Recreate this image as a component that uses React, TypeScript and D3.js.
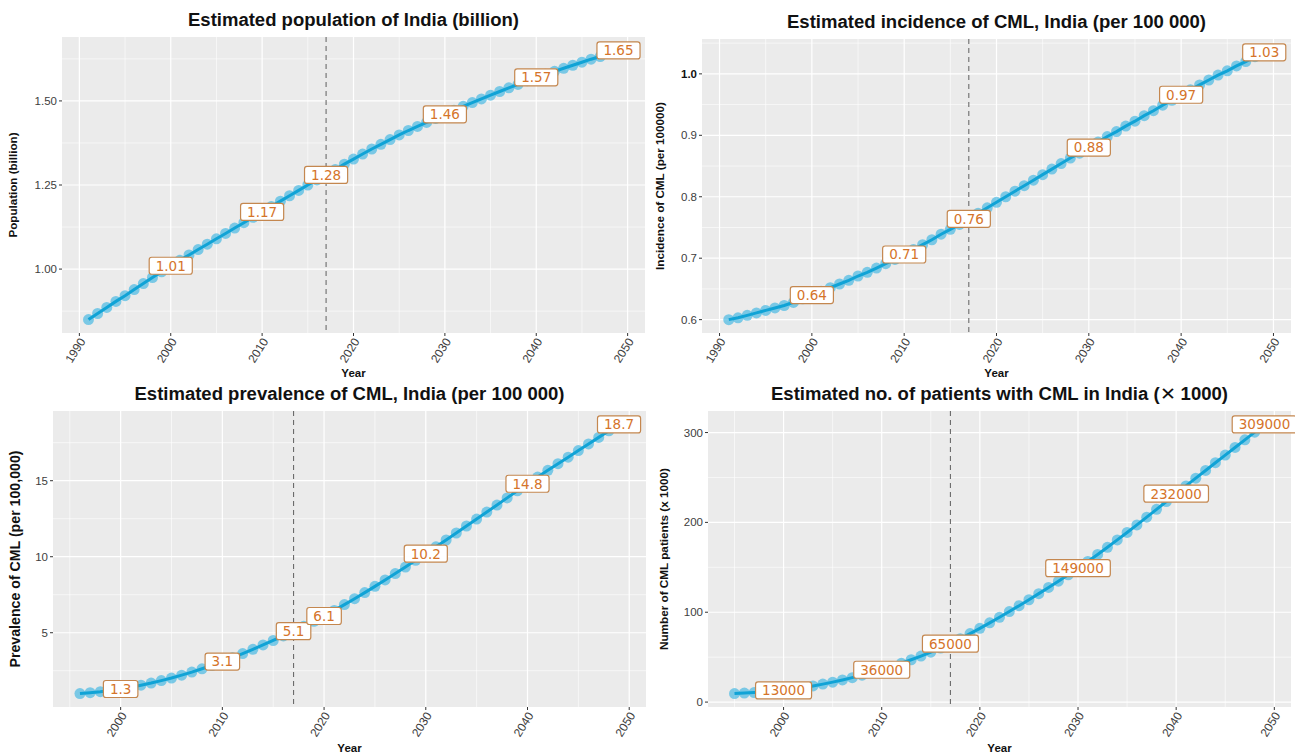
import * as d3 from 'd3'

// one value per year
const YEARS = [
  1991, 1992, 1993, 1994, 1995, 1996, 1997, 1998, 1999, 2000,
  2001, 2002, 2003, 2004, 2005, 2006, 2007, 2008, 2009, 2010,
  2011, 2012, 2013, 2014, 2015, 2016, 2017, 2018, 2019, 2020,
  2021, 2022, 2023, 2024, 2025, 2026, 2027, 2028, 2029, 2030,
  2031, 2032, 2033, 2034, 2035, 2036, 2037, 2038, 2039, 2040,
  2041, 2042, 2043, 2044, 2045, 2046, 2047, 2048, 2049,
]

const POPULATION = [
  0.850, 0.868, 0.886, 0.904, 0.921, 0.939, 0.957, 0.975, 0.992, 1.010,
  1.026, 1.042, 1.058, 1.074, 1.090, 1.106, 1.122, 1.138, 1.154, 1.170,
  1.186, 1.202, 1.218, 1.234, 1.250, 1.265, 1.280, 1.296, 1.312, 1.327,
  1.342, 1.357, 1.371, 1.385, 1.399, 1.412, 1.424, 1.436, 1.448, 1.460,
  1.472, 1.484, 1.495, 1.506, 1.517, 1.528, 1.539, 1.549, 1.560, 1.570,
  1.579, 1.588, 1.597, 1.606, 1.615, 1.624, 1.632, 1.641, 1.650,
]

const INCIDENCE = [
  0.600, 0.603, 0.607, 0.611, 0.615, 0.619, 0.623, 0.628, 0.634, 0.640,
  0.646, 0.652, 0.658, 0.664, 0.671, 0.677, 0.684, 0.691, 0.698, 0.706,
  0.714, 0.722, 0.730, 0.739, 0.747, 0.755, 0.764, 0.773, 0.782, 0.791,
  0.800, 0.809, 0.818, 0.827, 0.836, 0.845, 0.854, 0.863, 0.871, 0.880,
  0.889, 0.898, 0.906, 0.915, 0.923, 0.932, 0.940, 0.949, 0.957, 0.966,
  0.974, 0.982, 0.990, 0.998, 1.005, 1.013, 1.020, 1.028, 1.035,
]

// 1996 - 2049
const PREVALENCE = [
  1.00, 1.06, 1.12, 1.20, 1.30,
  1.42, 1.55, 1.69, 1.85, 2.02, 2.21, 2.41, 2.63, 2.86, 3.10,
  3.36, 3.63, 3.91, 4.20, 4.49, 4.79, 5.10, 5.42, 5.75, 6.10,
  6.47, 6.85, 7.24, 7.64, 8.05, 8.47, 8.89, 9.32, 9.76, 10.20,
  10.65, 11.10, 11.56, 12.02, 12.48, 12.94, 13.40, 13.87, 14.34, 14.80,
  15.24, 15.68, 16.12, 16.55, 16.98, 17.42, 17.85, 18.28, 18.70,
]

// 1995 - 2049, thousands
const PATIENTS = [
  9.5, 10.0, 10.6, 11.3, 12.1, 13.0,
  14.5, 16.2, 18.0, 20.0, 22.2, 24.6, 27.2, 30.0, 33.0, 36.0,
  39.5, 43.2, 47.1, 51.2, 55.5, 60.1, 65.0, 70.5, 76.2, 82.1,
  88.2, 94.4, 100.8, 107.3, 113.9, 120.7, 127.6, 134.6, 141.7, 149.0,
  156.5, 164.3, 172.3, 180.5, 188.8, 197.2, 205.8, 214.5, 223.2, 232.0,
  240.6, 249.2, 257.8, 266.4, 274.9, 283.4, 291.9, 300.4, 309.0,
]

const PREV_YEARS = YEARS.slice(5)
const PAT_YEARS = YEARS.slice(4)

const POP_LABEL_YEARS = [2000, 2010, 2017, 2030, 2040, 2049]
const POP_LABELS = ['1.01', '1.17', '1.28', '1.46', '1.57', '1.65']
const INC_LABEL_YEARS = [2000, 2010, 2017, 2030, 2040, 2049]
const INC_LABELS = ['0.64', '0.71', '0.76', '0.88', '0.97', '1.03']
const PREV_LABEL_YEARS = [2000, 2010, 2017, 2020, 2030, 2040, 2049]
const PREV_LABELS = ['1.3', '3.1', '5.1', '6.1', '10.2', '14.8', '18.7']
const PAT_LABEL_YEARS = [2000, 2010, 2017, 2030, 2040, 2049]
const PAT_LABELS = ['13000', '36000', '65000', '149000', '232000', '309000']

const X_TICKS_A = [1990, 2000, 2010, 2020, 2030, 2040, 2050]
const X_TICKS_B = [2000, 2010, 2020, 2030, 2040, 2050]
const X_MINOR = [1995, 2005, 2015, 2025, 2035, 2045]

const POP_TICKS = [1.0, 1.25, 1.5]
const POP_MINOR = [0.875, 1.125, 1.375, 1.625]
const INC_TICKS = [0.6, 0.7, 0.8, 0.9, 1.0]
const INC_MINOR = [0.65, 0.75, 0.85, 0.95, 1.05]
const PREV_TICKS = [5, 10, 15]
const PREV_MINOR = [2.5, 7.5, 12.5, 17.5]
const PAT_TICKS = [0, 100, 200, 300]
const PAT_MINOR = [50, 150, 250]

const DIVIDER_YEAR = 2017

const FONT = 'Liberation Sans, Arial, Helvetica, sans-serif'

const expand = (ext: [number, number]): [number, number] => {
  const pad = (ext[1] - ext[0]) * 0.05
  return [ext[0] - pad, ext[1] + pad]
}

const labelWidth = (s: string) => {
  let w = 0
  for (const c of s) w += c === '.' ? 4.3 : 8.6
  return w
}

function Panel({ cfg }: { cfg: any }) {
  const { left, right, top, bottom } = cfg
  const x = d3.scaleLinear()
    .domain(expand(d3.extent(cfg.years) as [number, number]))
    .range([left, right])
  const y = d3.scaleLinear()
    .domain(expand(d3.extent(cfg.values) as [number, number]))
    .range([bottom, top])

  const line = d3.line<number>()
    .x((_, i) => x(cfg.years[i]))
    .y(v => y(v))

  const cx = (left + right) / 2
  const cy = (top + bottom) / 2

  return (
    <g>
      <rect x={left} y={top} width={right - left} height={bottom - top} fill="#ebebeb" />
      {cfg.yMinor.map((t: number) => (
        <line key={'ym' + t} x1={left} x2={right} y1={y(t)} y2={y(t)} stroke="#fff" strokeWidth={0.6} />
      ))}
      {X_MINOR.map(t => (
        <line key={'xm' + t} x1={x(t)} x2={x(t)} y1={top} y2={bottom} stroke="#fff" strokeWidth={0.6} />
      ))}
      {cfg.yTicks.map((t: number) => (
        <line key={'yg' + t} x1={left} x2={right} y1={y(t)} y2={y(t)} stroke="#fff" strokeWidth={1.2} />
      ))}
      {cfg.xTicks.map((t: number) => (
        <line key={'xg' + t} x1={x(t)} x2={x(t)} y1={top} y2={bottom} stroke="#fff" strokeWidth={1.2} />
      ))}

      <line x1={x(DIVIDER_YEAR)} x2={x(DIVIDER_YEAR)} y1={top} y2={bottom}
        stroke="#6b6b6b" strokeWidth={1.1} strokeDasharray="5,4" />

      {cfg.values.map((v: number, i: number) => (
        <circle key={'p' + i} cx={x(cfg.years[i])} cy={y(v)} r={5.5} fill="#36b3e2" fillOpacity={0.62} />
      ))}
      <path d={line(cfg.values) || ''} fill="none" stroke="#10a3d6" strokeWidth={3} />

      {cfg.labelYears.map((ly: number, i: number) => {
        const v = cfg.values[cfg.years.indexOf(ly)]
        const tw = labelWidth(cfg.labels[i])
        const w = tw + 13
        return (
          <g key={'l' + i} transform={`translate(${x(ly)},${y(v)})`}>
            <rect x={-w / 2} y={-8.5} width={w} height={17} rx={2.5}
              fill="#fff" stroke="#c4874f" strokeWidth={1.2} />
            <text textAnchor="middle" dy="0.36em" fontSize={13.5}
              fontFamily="DejaVu Sans, sans-serif" fill="#d5742a">{cfg.labels[i]}</text>
          </g>
        )
      })}

      {cfg.yTicks.map((t: number, i: number) => {
        const bold = cfg.boldTick === cfg.yTickLabels[i]
        return (
          <g key={'yt' + t}>
            <line x1={left - 3} x2={left} y1={y(t)} y2={y(t)} stroke="#333" strokeWidth={1} />
            <text x={left - 5} y={y(t)} dy="0.35em" textAnchor="end" fontSize={11.5}
              fontFamily={FONT} fontWeight={bold ? 'bold' : 'normal'}
              fill={bold ? '#111' : '#3d3d3d'}>{cfg.yTickLabels[i]}</text>
          </g>
        )
      })}
      {cfg.xTicks.map((t: number) => (
        <g key={'xt' + t}>
          <line x1={x(t)} x2={x(t)} y1={bottom} y2={bottom + 3} stroke="#333" strokeWidth={1} />
          <text transform={`translate(${x(t) + 3},${bottom + 6}) rotate(-58)`} dy="0.35em"
            textAnchor="end" fontSize={12} fontFamily={FONT} fill="#3d3d3d">{t}</text>
        </g>
      ))}

      <text x={cx} y={top - 11} textAnchor="middle" fontSize={17.5} fontWeight="bold"
        fontFamily={FONT} fill="#111" textLength={cfg.titleLen} lengthAdjust="spacingAndGlyphs">
        {cfg.title}
        {cfg.titleTail ? <tspan fontWeight="normal">{cfg.titleTail}</tspan> : null}
        {cfg.titleEnd || ''}
      </text>
      <text transform={`translate(${cfg.yTitleX},${cy}) rotate(-90)`} textAnchor="middle"
        fontSize={cfg.yTitleSize} fontWeight="bold" fontFamily={FONT} fill="#111"
        textLength={cfg.yTitleLen} lengthAdjust="spacingAndGlyphs">{cfg.yTitle}</text>
      <text x={cx} y={cfg.xTitleY} textAnchor="middle" fontSize={11.5} fontWeight="bold"
        fontFamily={FONT} fill="#111">Year</text>
    </g>
  )
}

const PANELS = [
  {
    left: 62, right: 645, top: 37, bottom: 333,
    years: YEARS, values: POPULATION,
    labelYears: POP_LABEL_YEARS, labels: POP_LABELS,
    xTicks: X_TICKS_A, yTicks: POP_TICKS, yTickLabels: ['1.00', '1.25', '1.50'], yMinor: POP_MINOR,
    title: 'Estimated population of India (billion)', titleLen: 331,
    yTitle: 'Population (billion)', yTitleX: 17, yTitleSize: 11, yTitleLen: 105,
    xTitleY: 377,
  },
  {
    left: 702, right: 1291, top: 39, bottom: 333,
    years: YEARS, values: INCIDENCE,
    labelYears: INC_LABEL_YEARS, labels: INC_LABELS,
    xTicks: X_TICKS_A, yTicks: INC_TICKS, yTickLabels: ['0.6', '0.7', '0.8', '0.9', '1.0'], yMinor: INC_MINOR,
    boldTick: '1.0',
    title: 'Estimated incidence of CML, India (per 100 000)', titleLen: 419,
    yTitle: 'Incidence of CML (per 100000)', yTitleX: 664, yTitleSize: 11, yTitleLen: 168,
    xTitleY: 377,
  },
  {
    left: 53, right: 646, top: 411, bottom: 707,
    years: PREV_YEARS, values: PREVALENCE,
    labelYears: PREV_LABEL_YEARS, labels: PREV_LABELS,
    xTicks: X_TICKS_B, yTicks: PREV_TICKS, yTickLabels: ['5', '10', '15'], yMinor: PREV_MINOR,
    title: 'Estimated prevalence of CML, India (per 100 000)', titleLen: 430,
    yTitle: 'Prevalence of CML (per 100,000)', yTitleX: 20, yTitleSize: 14, yTitleLen: 217,
    xTitleY: 752,
  },
  {
    left: 708, right: 1291, top: 411, bottom: 707,
    years: PAT_YEARS, values: PATIENTS,
    labelYears: PAT_LABEL_YEARS, labels: PAT_LABELS,
    xTicks: X_TICKS_B, yTicks: PAT_TICKS, yTickLabels: ['0', '100', '200', '300'], yMinor: PAT_MINOR,
    title: 'Estimated no. of patients with CML in India (', titleTail: '\u2715', titleEnd: ' 1000)',
    titleLen: 457,
    yTitle: 'Number of CML patients (x 1000)', yTitleX: 668, yTitleSize: 11, yTitleLen: 182,
    xTitleY: 752,
  },
]

export default function App() {
  return (
    <div style={{ position: 'absolute', left: 0, top: 0 }}>
      <svg width={1295} height={754} style={{ display: 'block', background: '#fff' }}>
        {PANELS.map((p, i) => <Panel key={i} cfg={p} />)}
      </svg>
    </div>
  )
}
